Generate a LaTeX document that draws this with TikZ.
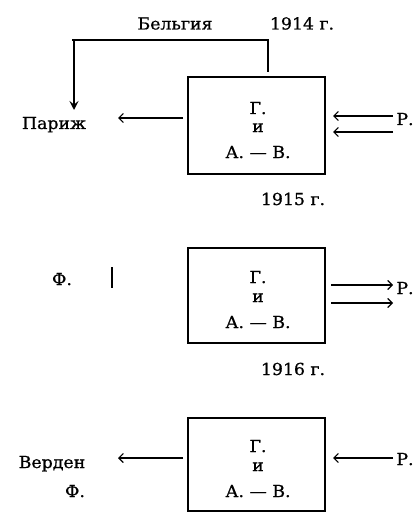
\documentclass[tikz,border=0pt]{standalone}
\usepackage{fontspec}
\setmainfont{DejaVu Serif}[FakeStretch=1.05,FakeBold=0.8]
\usetikzlibrary{arrows.meta}
\begin{document}
\begin{tikzpicture}[x=1pt,y=-1pt,
  lbl/.style={inner sep=0pt,anchor=base,font=\fontsize{16.5}{19}\selectfont},
  boxtxt/.style={inner sep=0pt,anchor=base,font=\fontsize{16.5}{19}\selectfont},
  frame/.style={draw,line width=1.6pt,inner sep=0pt},
  ln/.style={line width=1.4pt},
  arr/.style={line width=1.2pt,-{Straight Barb[length=4.5pt,width=9pt,line width=1.2pt]}},
  darr/.style={line width=1.6pt,-{Stealth[length=9pt,width=9pt,inset=3.5pt]}}]
\useasboundingbox (0,0) rectangle (419,513);

% ---- 1914 ----
\node[lbl] (belg) at (175,29.5) {Бельгия};
\node[lbl] (y14) at (302,29.5) {1914 г.};
\node[frame,minimum width=137pt,minimum height=97pt] (b1) at (256.5,125.5) {};
\node[boxtxt] (b1g) at (258,114) {Г.};
\node[boxtxt] (b1i) at (258,132) {и};
\node[boxtxt] (b1a) at (258,158) {А. — В.};
\node[lbl] (paris) at (54,129) {Париж};
\node[lbl] (r1) at (405,125) {Р.};
\coordinate (tl) at (74,40);
\coordinate (tr) at (268,40);
\coordinate (tb) at (268,72);
\coordinate (pdn) at (74,110);
\coordinate (p1) at (118,118);
\coordinate (b1l) at (183,118);
\coordinate (r1a) at (393,116);
\coordinate (r1ae) at (333,116);
\coordinate (r1b) at (393,132);
\coordinate (r1be) at (333,132);
\draw[ln] (tb) -- (tr) -- (72,40);
\draw[darr] (tl) -- (pdn);
\draw[arr] (b1l) -- (p1);
\draw[arr] (r1a) -- (r1ae);
\draw[arr] (r1b) -- (r1be);

% ---- 1915 ----
\node[lbl] (y15) at (293,205) {1915 г.};
\node[frame,minimum width=137pt,minimum height=95pt] (b2) at (256.5,295.5) {};
\node[boxtxt] (b2g) at (258,283) {Г.};
\node[boxtxt] (b2i) at (258,302) {и};
\node[boxtxt] (b2a) at (258,328) {А. — В.};
\node[lbl] (f2) at (62,285) {Ф.};
\node[lbl] (r2) at (405,294) {Р.};
\coordinate (bar1) at (112,267);
\coordinate (bar2) at (112,288);
\draw[ln] (bar1) -- (bar2);
\coordinate (r2a) at (331,285);
\coordinate (r2ae) at (393,285);
\coordinate (r2b) at (331,303);
\coordinate (r2be) at (393,303);
\draw[arr] (r2a) -- (r2ae);
\draw[arr] (r2b) -- (r2be);

% ---- 1916 ----
\node[lbl] (y16) at (293,375) {1916 г.};
\node[frame,minimum width=137pt,minimum height=93pt] (b3) at (256.5,464.5) {};
\node[boxtxt] (b3g) at (258,452) {Г.};
\node[boxtxt] (b3i) at (258,471) {и};
\node[boxtxt] (b3a) at (258,497) {А. — В.};
\node[lbl] (verd) at (52,468) {Верден};
\node[lbl] (f3) at (75,497) {Ф.};
\node[lbl] (r3) at (405,465) {Р.};
\coordinate (b3l) at (183,458);
\coordinate (v3) at (118,458);
\coordinate (r3a) at (393,458);
\coordinate (r3ae) at (333,458);
\draw[arr] (b3l) -- (v3);
\draw[arr] (r3a) -- (r3ae);
\end{tikzpicture}
\end{document}
